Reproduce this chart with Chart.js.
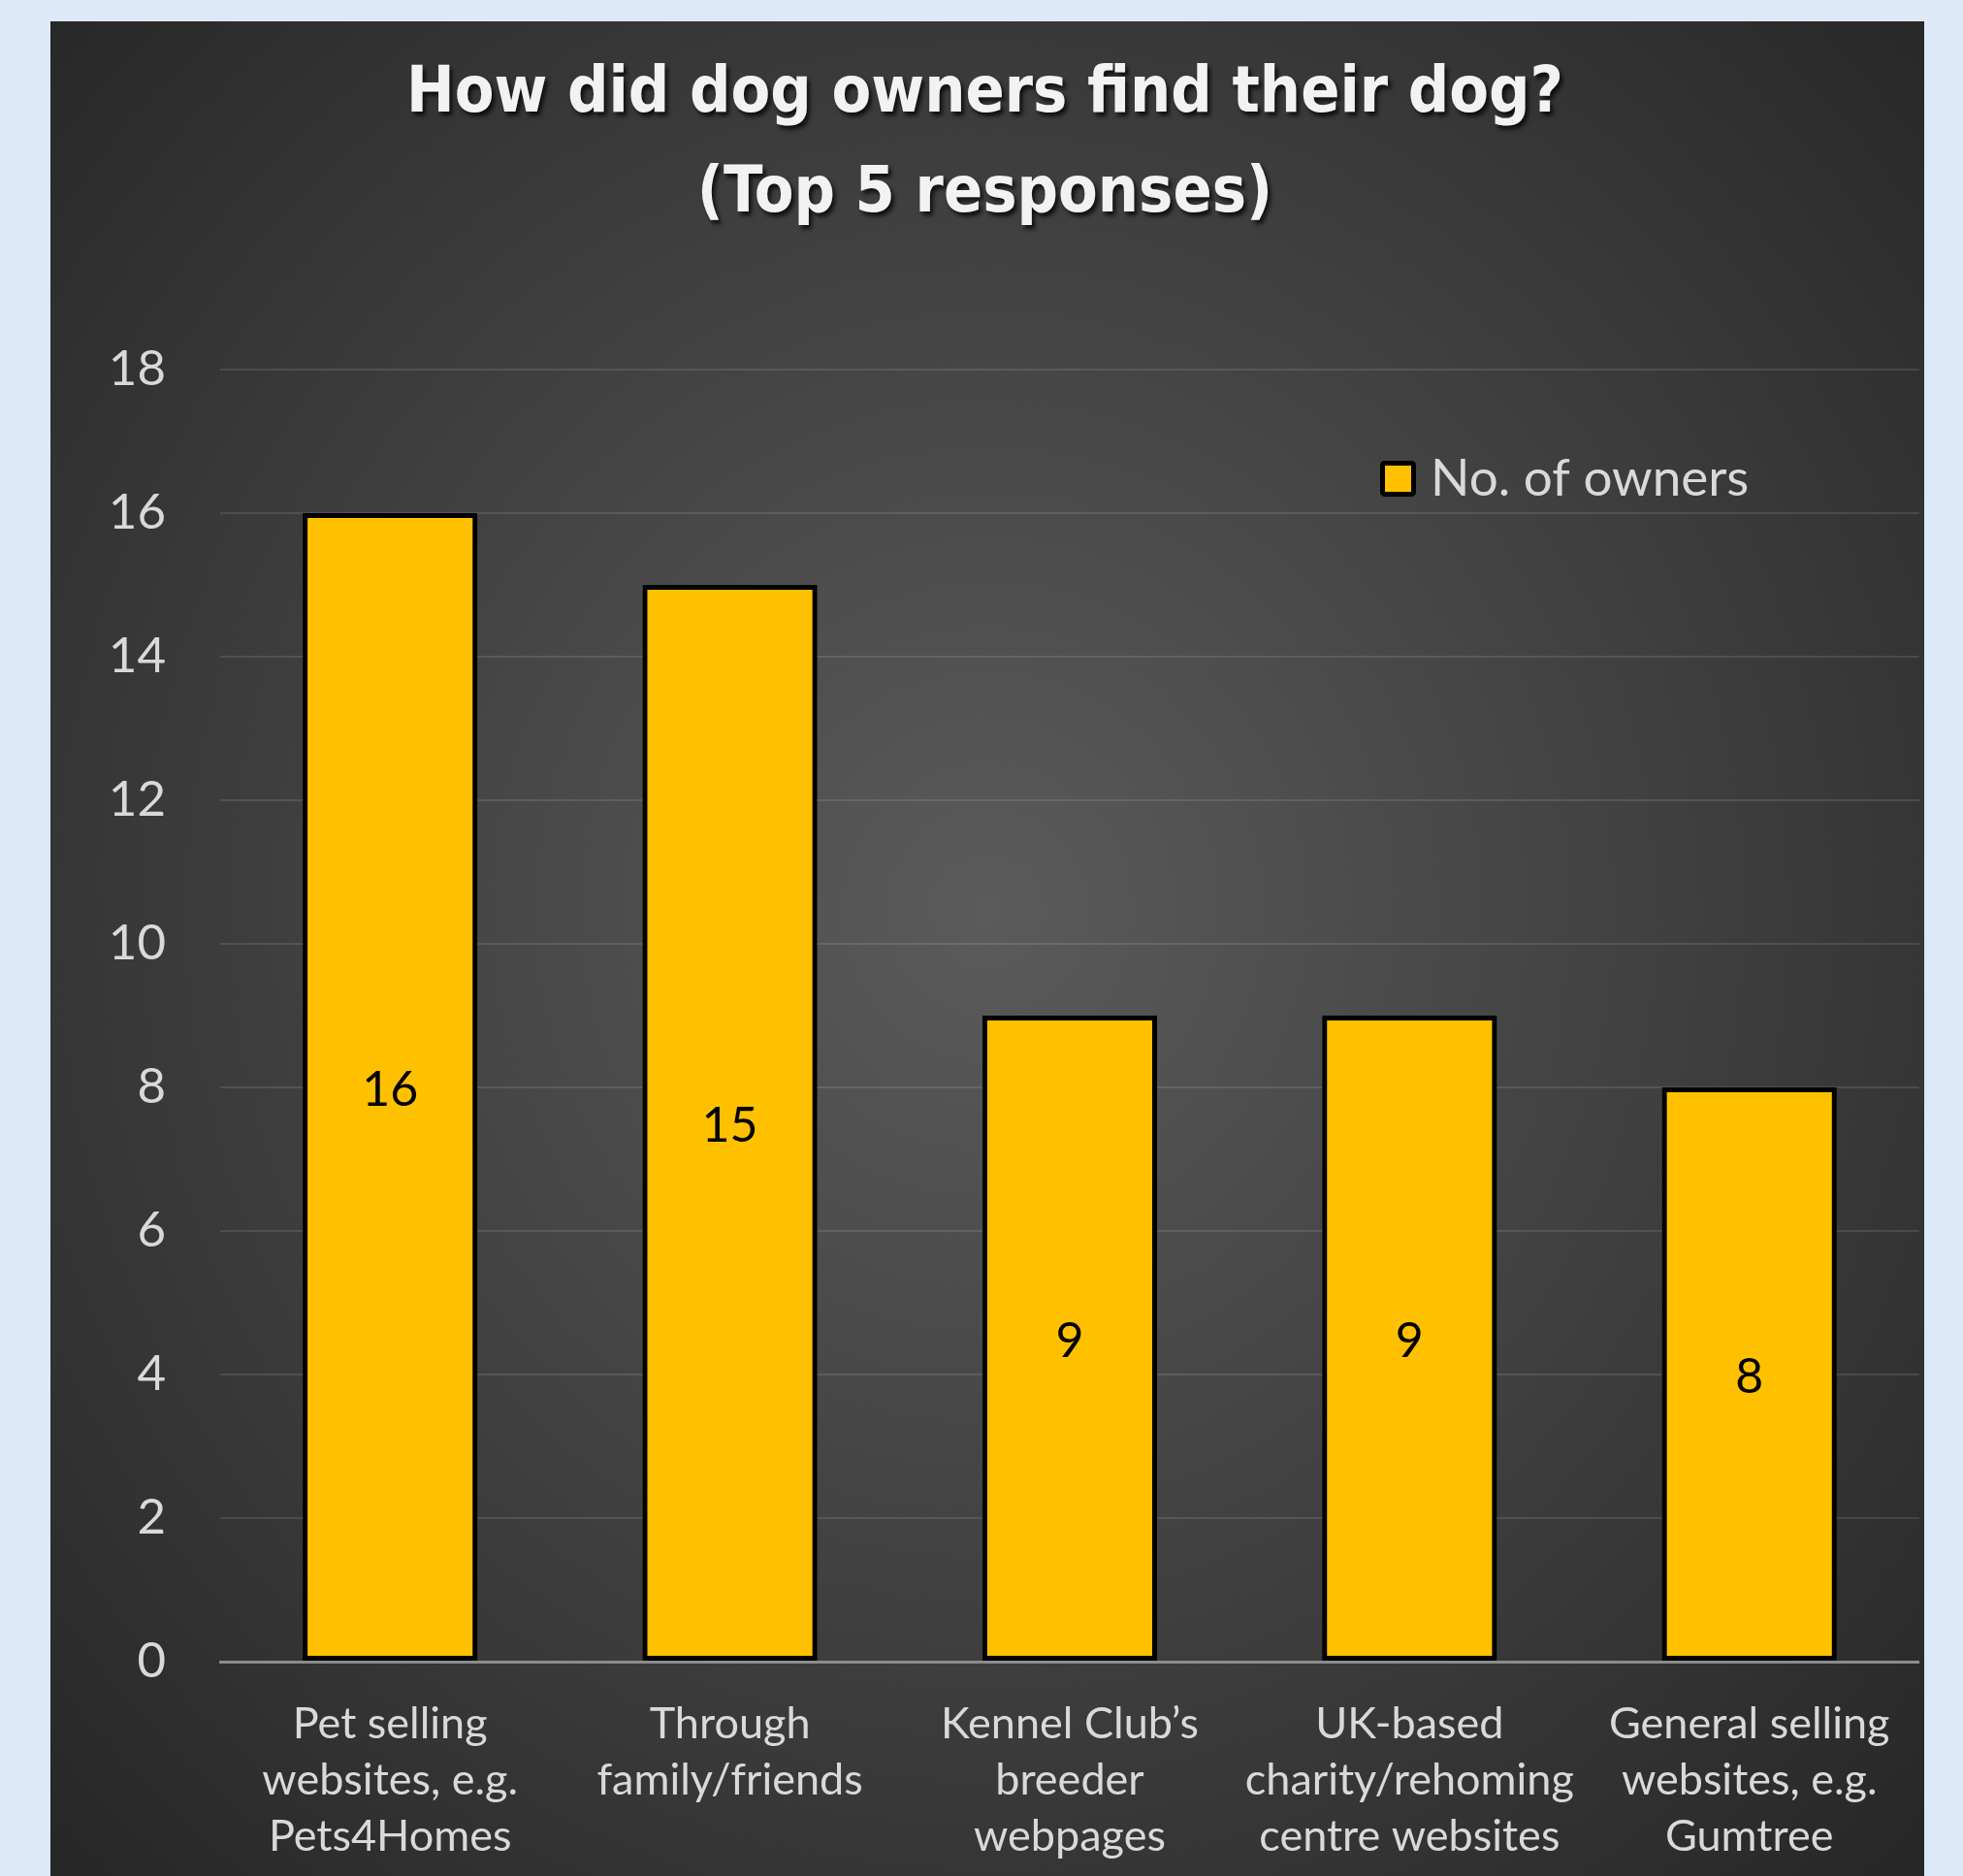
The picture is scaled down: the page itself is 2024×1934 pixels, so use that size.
<!DOCTYPE html>
<html><head><meta charset="utf-8">
<script src="https://cdn.jsdelivr.net/npm/chart.js@4.4.1/dist/chart.umd.min.js"></script>
<style>
html,body{margin:0;padding:0;background:#dde9f6;width:2024px;height:1934px;overflow:hidden;}
#panel{position:absolute;left:52px;top:22px;width:1932px;height:1912px;
  background:radial-gradient(ellipse farthest-corner at 50% 48%, #5b5b5b 0%, #262626 100%);}
#c{position:absolute;left:0;top:0;}
</style></head><body>
<div id="panel"><canvas id="c" width="1932" height="1912"></canvas></div>
<script>
// ---- data ----
const categories = [
  ["Pet selling", "websites, e.g.", "Pets4Homes"],
  ["Through", "family/friends"],
  ["Kennel Club\u2019s", "breeder", "webpages"],
  ["UK-based", "charity/rehoming", "centre websites"],
  ["General selling", "websites, e.g.", "Gumtree"]
];
const owners = [16, 15, 9, 9, 8];
const seriesLabel = "No. of owners";
const titleLines = ["How did dog owners find their dog?", "(Top 5 responses)"];
const yTicks = [0, 2, 4, 6, 8, 10, 12, 14, 16, 18];

const LABEL_FONT = "Lato";
const TITLE_FONT = "'DejaVu Sans Condensed', 'Liberation Sans Narrow', sans-serif";

const decorPlugin = {
  id: 'decor',
  beforeDraw(chart) {
    const tb = chart.titleBlock;
    if (tb && !tb._wrapped) {
      const orig = tb.draw.bind(tb);
      tb.draw = function (area) {
        const ctx = chart.ctx;
        ctx.save();
        ctx.shadowColor = 'rgba(0,0,0,0.75)';
        ctx.shadowOffsetX = 3; ctx.shadowOffsetY = 4; ctx.shadowBlur = 4;
        orig(area);
        ctx.restore();
      };
      tb._wrapped = true;
    }
  },
  beforeDatasetsDraw(chart) {
    const ctx = chart.ctx;
    ctx.save();
    ctx.shadowColor = 'rgba(0,0,0,0.6)';
    ctx.shadowBlur = 12; ctx.shadowOffsetX = 0; ctx.shadowOffsetY = 0;
  },
  afterDatasetsDraw(chart) {
    const ctx = chart.ctx;
    ctx.restore();
    // data labels
    const meta = chart.getDatasetMeta(0);
    ctx.save();
    ctx.fillStyle = '#000';
    ctx.font = "50px " + LABEL_FONT;
    ctx.textAlign = 'center';
    ctx.textBaseline = 'middle';
    meta.data.forEach((el, i) => {
      const p = el.getCenterPoint();
      ctx.fillText(String(chart.data.datasets[0].data[i]), p.x, p.y + 3);
    });
    ctx.restore();
  },
  afterDraw(chart) {
    // legend drawn inside plot area
    const ctx = chart.ctx, ca = chart.chartArea;
    const bx = ca.left + 1196, by = ca.top + 94, s = 37;
    ctx.save();
    ctx.fillStyle = '#FFC000';
    ctx.strokeStyle = '#000';
    ctx.lineWidth = 5;
    ctx.beginPath();
    ctx.roundRect(bx + 2.5, by + 2.5, s - 5, s - 5, 2);
    ctx.fill(); ctx.stroke();
    ctx.fillStyle = '#d9d9d9';
    ctx.font = "53px " + LABEL_FONT;
    ctx.textAlign = 'left';
    ctx.textBaseline = 'middle';
    ctx.fillText(chart.data.datasets[0].label, bx + s + 15, by + s / 2);
    ctx.restore();
  }
};

new Chart(document.getElementById('c'), {
  type: 'bar',
  data: {
    labels: categories,
    datasets: [{
      label: seriesLabel,
      data: owners,
      backgroundColor: '#FFC000',
      borderColor: '#000000',
      borderWidth: 5,
      borderSkipped: false,
      barPercentage: 0.514,
      categoryPercentage: 1.0
    }]
  },
  options: {
    responsive: false,
    devicePixelRatio: 1,
    animation: false,
    layout: { padding: { left: 0, right: 5, top: 0, bottom: 0 } },
    plugins: {
      legend: { display: false },
      tooltip: { enabled: false },
      title: {
        display: true,
        text: titleLines,
        color: '#f2f2f2',
        font: { family: TITLE_FONT, size: 66, weight: 'bold', lineHeight: 1.56 },
        padding: { top: 24, bottom: 129 }
      }
    },
    scales: {
      x: {
        z: 1,
        grid: { display: false, drawTicks: false },
        border: { color: '#8c8c8c', width: 3 },
        ticks: {
          color: '#d9d9d9',
          font: { family: LABEL_FONT, size: 45, lineHeight: 1.29 },
          padding: 35,
          maxRotation: 0,
          autoSkip: false
        },
        afterFit(s) { s.height = 221; }
      },
      y: {
        min: 0, max: 18,
        afterBuildTicks(scale) { scale.ticks = yTicks.map(v => ({ value: v })); },
        grid: { color: 'rgba(255,255,255,0.11)', lineWidth: 2, drawTicks: false },
        border: { display: false },
        ticks: {
          color: '#d9d9d9',
          font: { family: LABEL_FONT, size: 51 },
          padding: 56
        },
        afterFit(s) { s.width = 175; }
      }
    }
  },
  plugins: [decorPlugin]
});
</script>
</body></html>
